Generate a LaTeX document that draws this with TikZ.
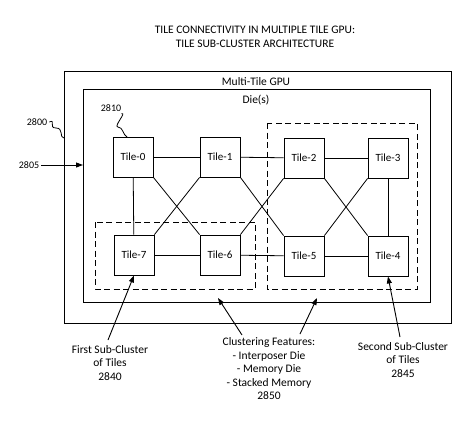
\documentclass[tikz,border=0pt]{standalone}
\usepackage{fontspec}
\setmainfont{Carlito}
\usetikzlibrary{arrows.meta}
\begin{document}
\begin{tikzpicture}[x=1pt,y=-1pt,
  tile/.style={draw,line width=0.9pt,minimum width=40pt,minimum height=40pt,inner sep=0pt,font=\fontsize{11}{12}\selectfont},
  lbl/.style={font=\fontsize{11.5}{13.5}\selectfont,align=center,inner sep=0pt},
  ref/.style={font=\fontsize{10}{11}\selectfont,inner sep=0pt},
  frame/.style={draw,line width=1pt},
  dbox/.style={draw,line width=0.9pt,dash pattern=on 6pt off 3.5pt},
  conn/.style={line width=0.8pt},
  arr/.style={line width=0.9pt,-{Triangle[length=7pt,width=5pt]}}
]
\useasboundingbox (0,0) rectangle (474,423);
% title
\node[lbl] (title) at (255,37) {TILE CONNECTIVITY IN MULTIPLE TILE GPU:\\TILE SUB-CLUSTER ARCHITECTURE};
% frames
\draw[frame] (64,71) rectangle (451,323);
\node[lbl] (gpu) at (256,82) {Multi-Tile GPU};
\draw[frame] (83,89) rectangle (430,302);
\node[lbl] (die) at (256,100) {Die(s)};
% sub-clusters
\draw[dbox] (95,222) rectangle (255,289);
\draw[dbox] (267,123) rectangle (417,289);
% tiles
\node[tile] (t0) at (133,157) {Tile-0};
\node[tile] (t1) at (220,157) {Tile-1};
\node[tile] (t2) at (304,158) {Tile-2};
\node[tile] (t3) at (388,158) {Tile-3};
\node[tile] (t7) at (134,255) {Tile-7};
\node[tile] (t6) at (220,255) {Tile-6};
\node[tile] (t5) at (304,256) {Tile-5};
\node[tile] (t4) at (388,256) {Tile-4};
% connections
\draw[conn] (t0) -- (t1);
\draw[conn] (t1) -- (t2);
\draw[conn] (t2) -- (t3);
\draw[conn] (t7) -- (t6);
\draw[conn] (t6) -- (t5);
\draw[conn] (t5) -- (t4);
\draw[conn] (t0) -- (t7);
\draw[conn] (t3) -- (t4);
\draw[conn] (t0.south east) -- (t6.north west);
\draw[conn] (t1.south west) -- (t7.north east);
\draw[conn] (t1.south east) -- (t5.north west);
\draw[conn] (t6.north east) -- (t2.south west);
\draw[conn] (t2.south east) -- (t4.north west);
\draw[conn] (t3.south west) -- (t5.north east);
% reference numerals
\node[ref] (r2800) at (37,122) {2800};
\node[ref] (r2805) at (29,165) {2805};
\node[ref] (r2810) at (111,108) {2810};
\coordinate (c2800) at (64,138);
\coordinate (c2805) at (83,165);
\coordinate (c2810) at (127,137);
\draw[conn] (r2800.east) ++(2,0) .. controls +(7,-3) and +(-8,0) .. (56,128) .. controls +(8,0) and +(-5,0) .. (c2800);
\draw[conn] (r2810.south east) ++(0,2) .. controls +(6,-2) and +(-5,0) .. (118,127) .. controls +(5,0) and +(-4,-2) .. (c2810);
\draw[arr] (r2805.east) ++(2,0) -- (c2805);
% bottom labels
\node[lbl] (first) at (110,363) {First Sub-Cluster\\of Tiles\\2840};
\node[lbl] (clus) at (269,369) {Clustering Features:\\- Interposer Die\\- Memory Die\\- Stacked Memory\\2850};
\node[lbl] (second) at (403,360) {Second Sub-Cluster\\of Tiles\\2845};
\coordinate (dieA) at (218,298);
\coordinate (dieB) at (317,298);
\draw[arr] (108,340) -- (t7.south);
\draw[arr] (242,335) -- (dieA);
\draw[arr] (300,334) -- (dieB);
\draw[arr] (400,337) -- (t4.south);
\end{tikzpicture}
\end{document}
